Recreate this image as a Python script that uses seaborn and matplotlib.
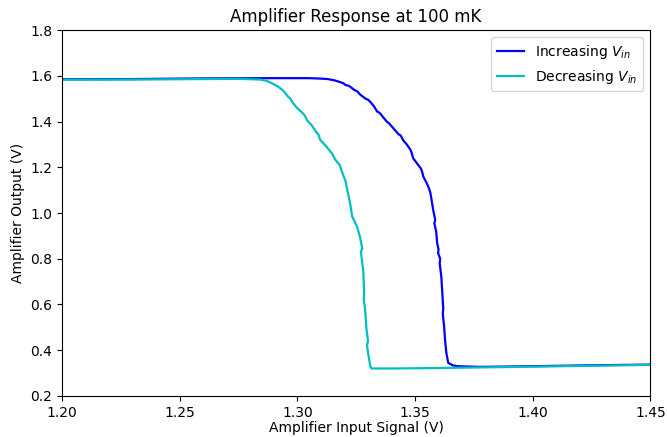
import pandas as pd
import seaborn as sns
import matplotlib.pyplot as plt

# increasing V_in sweep
inc_x = [1.200, 1.230, 1.260, 1.290, 1.305, 1.310, 1.313, 1.316, 1.3195, 1.3205,
         1.322, 1.324, 1.3255, 1.3267, 1.329, 1.330, 1.331, 1.3325, 1.3339, 1.3350,
         1.336, 1.338, 1.3390, 1.3407, 1.343, 1.3440, 1.345, 1.3465, 1.348, 1.3485,
         1.3492, 1.351, 1.3525, 1.3530, 1.3535, 1.355, 1.3558, 1.3565, 1.357, 1.3577,
         1.3586, 1.3582, 1.3590, 1.3594, 1.3600, 1.3598, 1.3607, 1.3605, 1.3612, 1.3616,
         1.3620, 1.3618, 1.3624, 1.3628, 1.3633, 1.3641, 1.3660, 1.3679, 1.3777, 1.400,
         1.425, 1.450]
inc_y = [1.585, 1.586, 1.589, 1.590, 1.590, 1.588, 1.586, 1.580, 1.568, 1.560,
         1.556, 1.540, 1.532, 1.518, 1.500, 1.496, 1.486, 1.468, 1.444, 1.438,
         1.425, 1.400, 1.392, 1.372, 1.345, 1.338, 1.318, 1.300, 1.278, 1.266,
         1.240, 1.215, 1.195, 1.182, 1.160, 1.130, 1.112, 1.090, 1.060, 1.015,
         0.970, 0.955, 0.920, 0.870, 0.840, 0.825, 0.800, 0.780, 0.720, 0.650,
         0.580, 0.560, 0.500, 0.440, 0.390, 0.345, 0.334, 0.330, 0.327, 0.330,
         0.334, 0.337]

# decreasing V_in sweep
dec_x = [1.200, 1.230, 1.260, 1.275, 1.2842, 1.2870, 1.2897, 1.292, 1.2940, 1.296,
         1.2970, 1.2982, 1.300, 1.302, 1.3030, 1.3042, 1.306, 1.308, 1.3090, 1.3097,
         1.312, 1.314, 1.3150, 1.316, 1.3180, 1.3195, 1.3205, 1.3212, 1.3218, 1.3224,
         1.3233, 1.3254, 1.3265, 1.3276, 1.3270, 1.3280, 1.3284, 1.3282, 1.3288, 1.3293,
         1.3300, 1.3296, 1.3301, 1.3310, 1.3315, 1.340, 1.360, 1.380, 1.400, 1.425,
         1.450]
dec_y = [1.583, 1.584, 1.586, 1.587, 1.584, 1.578, 1.565, 1.552, 1.535, 1.510,
         1.500, 1.480, 1.458, 1.440, 1.428, 1.405, 1.385, 1.355, 1.342, 1.320,
         1.295, 1.270, 1.256, 1.235, 1.210, 1.165, 1.140, 1.100, 1.075, 1.044,
         0.985, 0.940, 0.900, 0.845, 0.830, 0.750, 0.650, 0.620, 0.580, 0.500,
         0.440, 0.420, 0.385, 0.330, 0.320, 0.320, 0.322, 0.325, 0.328, 0.332,
         0.336]

inc = pd.DataFrame({"vin": inc_x, "vout": inc_y})
dec = pd.DataFrame({"vin": dec_x, "vout": dec_y})

fig = plt.figure(figsize=(6.67, 4.37), dpi=100)
ax = fig.add_axes([0.093, 0.094, 0.882, 0.837])

sns.lineplot(data=inc, x="vin", y="vout", estimator=None, sort=False,
             color="b", linewidth=1.6, ax=ax, label=r"Increasing $V_{in}$")
sns.lineplot(data=dec, x="vin", y="vout", estimator=None, sort=False,
             color="c", linewidth=1.6, ax=ax, label=r"Decreasing $V_{in}$")

ax.set_xlim(1.20, 1.45)
ax.set_ylim(0.2, 1.8)
ax.set_xticks([1.20, 1.25, 1.30, 1.35, 1.40, 1.45])
ax.set_xticklabels(["1.20", "1.25", "1.30", "1.35", "1.40", "1.45"])
ax.set_yticks([0.2, 0.4, 0.6, 0.8, 1.0, 1.2, 1.4, 1.6, 1.8])
ax.set_xlabel("Amplifier Input Signal (V)", labelpad=1)
ax.set_ylabel("Amplifier Output (V)")
ax.set_title("Amplifier Response at 100 mK")
ax.legend(loc="upper right")

fig.savefig("out.png", dpi=100)
